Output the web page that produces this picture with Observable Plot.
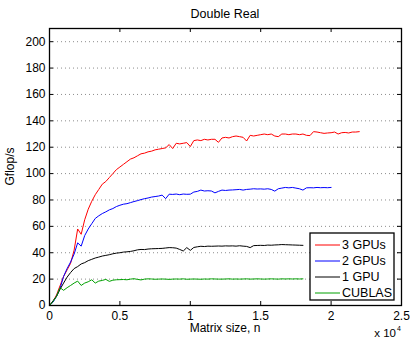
<!DOCTYPE html>
<html>
<head>
<meta charset="utf-8">
<script src="https://cdn.jsdelivr.net/npm/d3@7"></script>
<script src="https://cdn.jsdelivr.net/npm/@observablehq/plot@0.6"></script>
<style>
  html, body { margin: 0; padding: 0; background: #fff; }
  svg { display: block; }
</style>
</head>
<body>
<div id="chart"></div>
<script>
// ---- Data ----
const title = "Double Real";
const xLabel = "Matrix size, n";
const yLabel = "Gflop/s";
const seriesNames = ["3 GPUs", "2 GPUs", "1 GPU", "CUBLAS"];
const seriesColors = ["#ff0000", "#0000ff", "#000000", "#00a000"];
const xTicks = [0, 5000, 10000, 15000, 20000, 25000];
const xTickLabels = ["0", "0.5", "1", "1.5", "2", "2.5"];
const yTicks = [0, 20, 40, 60, 80, 100, 120, 140, 160, 180, 200];

// matrix sizes sampled every 250
const sizes = d3.range(0, 22001, 250);

const gpus3 = [0, 3, 8, 15, 22, 27, 32, 42, 58, 54, 65, 73, 79, 84, 88, 92, 94, 97, 100, 103,
  105, 107, 109, 111, 112, 113.5, 115, 115.5, 116.5, 117, 118, 118.5, 119, 119.5, 122, 119,
  123, 122.5, 123, 123.5, 120.5, 125, 125.5, 125, 126, 125.5, 126, 126, 123.7, 127, 127.5,
  127, 128, 128.5, 128, 127.5, 124.7, 129, 128.5, 129, 129.5, 130, 129.5, 130, 128.5, 128,
  130, 130, 129.5, 130, 130, 129.5, 130, 129, 128.8, 131.8, 131.5, 131, 130.5, 130.8, 131,
  131.5, 130, 131, 131.2, 130.8, 131.5, 131.5, 131.8];

const gpus2 = [0, 2.5, 7, 13, 22, 28, 33, 39, 47.5, 45, 53, 58, 62, 66, 68, 69.7, 71, 72.5,
  73.5, 75, 76, 76.8, 77.2, 78, 78.8, 79.5, 80.3, 81, 81.5, 82.2, 82.6, 83, 83.7, 81, 84.4,
  84.2, 84.5, 84, 84.5, 84.3, 84.4, 86, 86.5, 87.5, 86.8, 87, 86.8, 85.4, 86.5, 87.5, 87.2,
  87.5, 87.6, 87.8, 88, 87.5, 88, 88.2, 88.5, 88.3, 88.4, 88.2, 88.5, 88, 86.7, 88.5, 89,
  89.5, 89.2, 89.5, 89, 88.5, 87.5, 89.2, 89.3, 89.2, 89.5, 89.3, 89.4, 89.3, 89.5];

const gpu1 = [0, 3.5, 7, 12.3, 17, 21.5, 25, 28, 29.5, 31.5, 32.5, 34, 35, 36, 36.7, 37.5,
  38, 38.5, 39.2, 39.7, 40, 40.5, 40.7, 41, 41.5, 42.2, 42.5, 42.4, 42.8, 43, 43.1, 43.2,
  43.3, 43.6, 43.9, 43.8, 43.5, 42.5, 41.3, 43.9, 41.8, 44, 44.5, 44.9, 44.7, 45, 44.9, 45,
  45.1, 45, 45.2, 45.1, 45.2, 45, 45.3, 45, 44.8, 43.9, 45.4, 45.5, 45.6, 45.5, 45.8, 45.7,
  45.9, 46, 46.2, 46.1, 46, 45.9, 45.8, 45.7, 45.6];

const cublas = [0, 3, 7, 13.5, 11.5, 13.5, 15.2, 17, 18.5, 15.2, 17, 18, 19.5, 17, 18.5, 19,
  19.8, 18.3, 19.2, 19.5, 19.6, 19.7, 19.5, 20, 20.3, 19.8, 19.4, 20, 20.2, 20.1, 19.9, 20,
  20.1, 20, 19.8, 20, 20.1, 20, 20.2, 19.9, 20, 20.1, 20, 19.9, 20.1, 20, 20.2, 20.1, 20, 20,
  20.1, 20.2, 20, 20.1, 20, 20.1, 20.2, 20, 20.1, 20.2, 20.1, 20, 20.1, 20.2, 20.1, 20, 20.2,
  20.1, 20.2, 20.1, 20.2, 20.1, 20.2];

const seriesValues = [gpus3, gpus2, gpu1, cublas];

// ---- Build tidy table ----
const rows = [];
seriesValues.forEach((vals, s) => {
  vals.forEach((v, i) => rows.push({n: sizes[i], gflops: v, series: seriesNames[s]}));
});

// ---- Layout ----
const W = 411, H = 340;
const mL = 49, mR = 10, mT = 28, mB = 35;
const frameW = W - mL - mR, frameH = H - mT - mB;
const tickLen = 4;
const font = "'Liberation Sans', Arial, Helvetica, sans-serif";

const plot = Plot.plot({
  width: W,
  height: H,
  marginLeft: mL,
  marginRight: mR,
  marginTop: mT,
  marginBottom: mB,
  style: {fontFamily: font, fontSize: "12px", color: "#000", background: "#fff"},
  x: {domain: [0, 25000]},
  y: {domain: [0, 210]},
  color: {domain: seriesNames, range: seriesColors},
  marks: [
    Plot.gridY(yTicks.filter(d => d > 0), {stroke: "#000", strokeOpacity: 0.45, strokeDasharray: "1,3", strokeWidth: 1}),
    Plot.line(rows, {x: "n", y: "gflops", z: "series", stroke: "series", strokeWidth: 1, curve: "linear"}),
    // inward tick marks on all four sides
    Plot.tickX(xTicks, {x: d => d, insetTop: frameH - tickLen, stroke: "#000"}),
    Plot.tickX(xTicks, {x: d => d, insetBottom: frameH - tickLen, stroke: "#000"}),
    Plot.tickY(yTicks, {y: d => d, insetRight: frameW - tickLen, stroke: "#000"}),
    Plot.tickY(yTicks, {y: d => d, insetLeft: frameW - tickLen, stroke: "#000"}),
    Plot.axisX(xTicks, {tickSize: 0, tickPadding: 6, tickFormat: (d, i) => xTickLabels[i], label: null, fontSize: 12}),
    Plot.axisY(yTicks, {tickSize: 0, tickPadding: 4, label: null, fontSize: 12}),
    Plot.frame({stroke: "#000", strokeWidth: 1.3})
  ]
});

document.getElementById("chart").appendChild(plot);

// ---- Extra text: title, axis labels, multiplier, legend ----
const svg = d3.select(plot);
const cx = mL + frameW / 2;

svg.append("text").attr("x", cx).attr("y", 18).attr("text-anchor", "middle")
  .attr("font-family", font).attr("font-size", 12.5).attr("fill", "#000").text(title);

svg.append("text").attr("x", cx).attr("y", 332).attr("text-anchor", "middle")
  .attr("font-family", font).attr("font-size", 12).attr("fill", "#000").text(xLabel);

svg.append("text").attr("transform", `translate(14,${mT + frameH / 2}) rotate(-90)`)
  .attr("text-anchor", "middle").attr("font-family", font).attr("font-size", 12)
  .attr("fill", "#000").text(yLabel);

svg.append("text").attr("x", 396).attr("y", 337).attr("text-anchor", "end")
  .attr("font-family", font).attr("font-size", 11.5).attr("fill", "#000").text("x 10");
svg.append("text").attr("x", 397).attr("y", 331).attr("text-anchor", "start")
  .attr("font-family", font).attr("font-size", 7).attr("fill", "#000").text("4");

// legend box in lower right
const lgW = 84, lgH = 67;
const lgX = mL + frameW - 7 - lgW, lgY = mT + frameH - 5 - lgH;
const lg = svg.append("g").attr("transform", `translate(${lgX},${lgY})`);
lg.append("rect").attr("width", lgW).attr("height", lgH).attr("fill", "#fff")
  .attr("stroke", "#000").attr("stroke-width", 1.3);
seriesNames.forEach((name, i) => {
  const yy = 12 + i * 16;
  lg.append("line").attr("x1", 5).attr("x2", 30).attr("y1", yy).attr("y2", yy)
    .attr("stroke", seriesColors[i]).attr("stroke-width", 1);
  lg.append("text").attr("x", 32).attr("y", yy).attr("dy", "0.35em")
    .attr("text-anchor", "start")
    .attr("font-family", font).attr("font-size", 12.5).attr("fill", "#000").text(name);
});
</script>
</body>
</html>
